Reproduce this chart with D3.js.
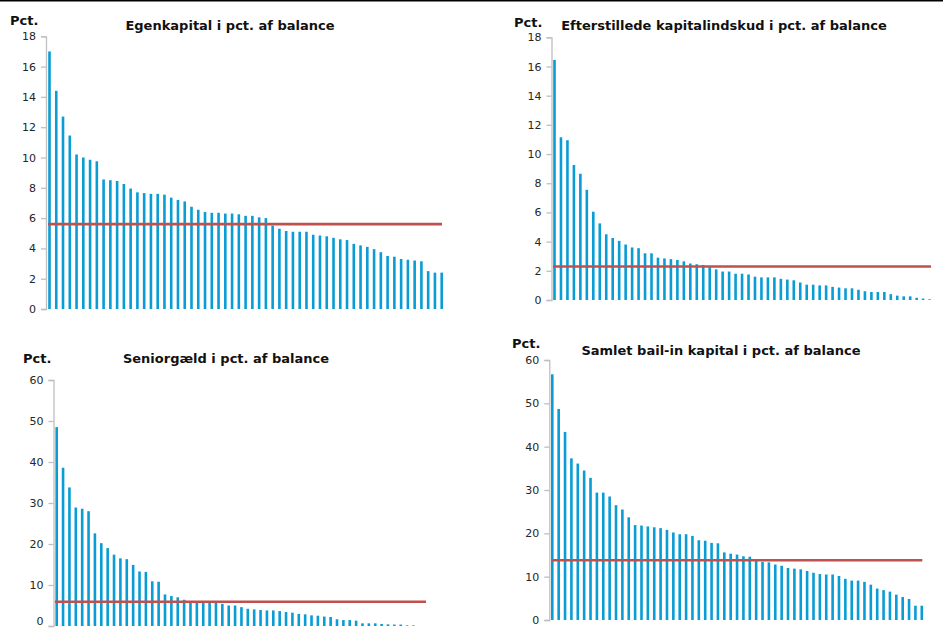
<!DOCTYPE html>
<html>
<head>
<meta charset="utf-8">
<script src="https://cdn.jsdelivr.net/npm/d3@7"></script>
<style>
  html, body { margin: 0; padding: 0; background: #ffffff; }
  svg { display: block; }
</style>
</head>
<body>
<svg id="chart" width="943" height="628"></svg>
<script>
// ---------------- DATA ----------------
const unitLabel = "Pct.";
const titles = [
  "Egenkapital i pct. af balance",
  "Efterstillede kapitalindskud i pct. af balance",
  "Seniorgæld i pct. af balance",
  "Samlet bail-in kapital i pct. af balance"
];
const ticksSmall = [0, 2, 4, 6, 8, 10, 12, 14, 16, 18];
const ticksLarge = [0, 10, 20, 30, 40, 50, 60];

const equityValues = [17.0, 14.4, 12.7, 11.45, 10.2, 10.0, 9.85, 9.75, 8.55, 8.5,
  8.45, 8.25, 7.95, 7.7, 7.65, 7.6, 7.6, 7.55, 7.35, 7.2,
  7.1, 6.75, 6.55, 6.4, 6.35, 6.35, 6.3, 6.3, 6.25, 6.15,
  6.15, 6.05, 6.0, 5.5, 5.3, 5.15, 5.1, 5.1, 5.1, 4.9,
  4.85, 4.8, 4.7, 4.6, 4.55, 4.3, 4.2, 4.1, 3.95, 3.75,
  3.5, 3.45, 3.3, 3.25, 3.2, 3.15, 2.5, 2.4, 2.4];
const equityAverage = 5.6;

const subordValues = [16.45, 11.15, 10.95, 9.25, 8.65, 7.55, 6.05, 5.25, 4.5, 4.25,
  4.05, 3.8, 3.6, 3.55, 3.2, 3.2, 2.9, 2.85, 2.8, 2.75,
  2.65, 2.5, 2.45, 2.4, 2.25, 2.1, 1.95, 1.95, 1.8, 1.8,
  1.75, 1.6, 1.55, 1.55, 1.55, 1.45, 1.4, 1.35, 1.2, 1.05,
  1.05, 1.0, 1.0, 0.9, 0.85, 0.8, 0.8, 0.7, 0.6, 0.55,
  0.55, 0.55, 0.4, 0.3, 0.25, 0.25, 0.15, 0.1, 0.05];
const subordAverage = 2.3;

const seniorValues = [48.5, 38.6, 33.8, 28.9, 28.6, 28.0, 22.6, 20.2, 19.0, 17.4,
  16.5, 16.3, 14.9, 13.3, 13.2, 10.9, 10.8, 7.7, 7.3, 7.0,
  6.4, 5.9, 5.8, 5.8, 5.8, 5.8, 5.4, 5.0, 5.0, 4.6,
  4.2, 4.05, 3.9, 3.8, 3.8, 3.65, 3.4, 3.25, 2.95, 2.85,
  2.6, 2.5, 2.3, 2.2, 1.65, 1.45, 1.45, 1.3, 0.65, 0.65,
  0.65, 0.5, 0.4, 0.35, 0.35, 0.15, 0.15, 0, 0];
const seniorAverage = 5.9;

const bailinValues = [56.7, 48.7, 43.4, 37.3, 36.1, 34.5, 32.8, 29.4, 29.4, 28.5,
  26.5, 25.5, 23.7, 21.9, 21.8, 21.6, 21.4, 21.2, 20.8, 20.2,
  19.8, 19.8, 19.4, 18.4, 18.3, 17.8, 17.7, 15.6, 15.3, 15.1,
  14.7, 14.6, 13.6, 13.4, 13.3, 12.8, 12.5, 12.0, 11.85, 11.7,
  11.3, 10.9, 10.6, 10.5, 10.5, 10.15, 9.5, 9.1, 9.1, 8.8,
  8.15, 7.25, 6.9, 6.55, 5.85, 5.3, 4.85, 3.3, 3.3];
const bailinAverage = 13.8;

// ---------------- LAYOUT ----------------
const panels = [
  { title: titles[0], values: equityValues, avg: equityAverage, ticks: ticksSmall, max: 18,
    axisX: 46, yTop: 36.3, yBottom: 309, x0: 49.5, x1: 441.7, lx0: 48, lx1: 442,
    titleX: 230, titleY: 30, pctX: 10, pctY: 25 },
  { title: titles[1], values: subordValues, avg: subordAverage, ticks: ticksSmall, max: 18,
    axisX: 551.5, yTop: 37.3, yBottom: 300, x0: 554.5, x1: 929.6, lx0: 553, lx1: 931,
    titleX: 724, titleY: 30, pctX: 514, pctY: 27 },
  { title: titles[2], values: seniorValues, avg: seniorAverage, ticks: ticksLarge, max: 60,
    axisX: 53.5, yTop: 380, yBottom: 626, x0: 56.7, x1: 426.2, lx0: 55, lx1: 426,
    titleX: 226, titleY: 363, pctX: 23, pctY: 363 },
  { title: titles[3], values: bailinValues, avg: bailinAverage, ticks: ticksLarge, max: 60,
    axisX: 549.3, yTop: 360, yBottom: 620, x0: 552.3, x1: 921.8, lx0: 551.7, lx1: 922.3,
    titleX: 721, titleY: 355, pctX: 512, pctY: 348 }
];

const barColor = "#0a9cd4";
const avgColor = "#c0504d";
const axisColor = "#bfbfbf";
const barWidth = 2.6;
const svgHeight = 628;

const svg = d3.select("#chart");

// top border line
svg.append("line")
  .attr("x1", 0).attr("x2", 943).attr("y1", 0.75).attr("y2", 0.75)
  .attr("stroke", "#000").attr("stroke-width", 1.5);

panels.forEach(p => {
  const g = svg.append("g");
  const cats = p.values.map((v, i) => i);
  const x = d3.scalePoint().domain(cats).range([p.x0, p.x1]);
  const y = d3.scaleLinear().domain([0, p.max]).range([p.yBottom, p.yTop]);

  // y axis
  const yAxis = d3.axisLeft(y).tickValues(p.ticks).tickSize(5).tickPadding(5)
    .tickFormat(d3.format("d"));
  const ag = g.append("g").attr("transform", `translate(${p.axisX},0)`).call(yAxis);
  ag.select(".domain").attr("stroke", axisColor).attr("stroke-width", 1.3);
  ag.selectAll(".tick line").attr("stroke", axisColor).attr("stroke-width", 1.3);
  ag.selectAll(".tick text")
    .attr("fill", "#262626")
    .style("font-family", "'DejaVu Sans', Verdana, sans-serif")
    .style("font-size", "11px")
    .each(function (d) {
      // keep a label that would fall past the bottom edge inside the picture
      const yy = y(d);
      if (yy + 6 > svgHeight) {
        d3.select(this).attr("dy", null).attr("y", svgHeight - 4 - yy);
      }
    });

  // bars
  g.selectAll("rect.bar").data(p.values).enter().append("rect")
    .attr("class", "bar")
    .attr("x", (d, i) => x(i) - barWidth / 2)
    .attr("width", barWidth)
    .attr("y", d => y(d))
    .attr("height", d => y(0) - y(d))
    .attr("fill", barColor);

  // average line
  g.append("line")
    .attr("x1", p.lx0).attr("x2", p.lx1)
    .attr("y1", y(p.avg)).attr("y2", y(p.avg))
    .attr("stroke", avgColor).attr("stroke-width", 2.6);

  // title
  g.append("text")
    .attr("x", p.titleX).attr("y", p.titleY)
    .attr("text-anchor", "middle")
    .style("font-family", "'DejaVu Sans', Verdana, sans-serif")
    .style("font-weight", "bold")
    .style("font-size", "13px")
    .attr("fill", "#111")
    .text(p.title);

  // unit label
  g.append("text")
    .attr("x", p.pctX).attr("y", p.pctY)
    .style("font-family", "'DejaVu Sans', Verdana, sans-serif")
    .style("font-weight", "bold")
    .style("font-size", "13px")
    .attr("fill", "#111")
    .text(unitLabel);
});
</script>
</body>
</html>
